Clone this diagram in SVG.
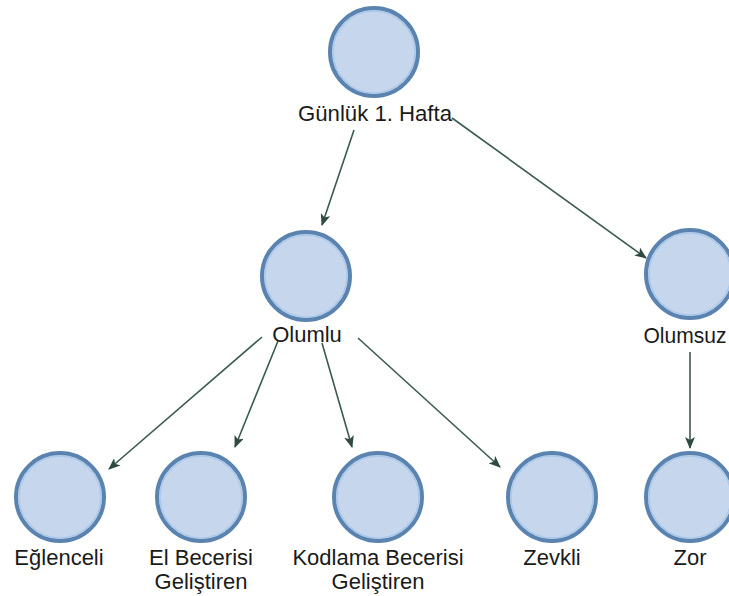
<svg xmlns="http://www.w3.org/2000/svg" width="729" height="596" viewBox="0 0 729 596">
<defs>
<style>
.node circle.o{fill:#c6d6ec;stroke:#5a83b0;stroke-width:4}
.node circle.i{fill:none;stroke:#a9c8ea;stroke-width:1.5}
.node text{font-family:"Liberation Sans",Arial,sans-serif;font-size:22px;fill:#1a1a1a;text-anchor:middle}
#edges line{stroke:#3b5a50;stroke-width:1.6;marker-end:url(#ah)}
</style>
<marker id="ah" viewBox="0 0 12 10" refX="11" refY="5" markerWidth="12" markerHeight="10" markerUnits="userSpaceOnUse" orient="auto">
<path d="M0,0 L12,5 L0,10 L3,5 z" fill="#2e4a42"/>
</marker>
</defs>
<rect width="729" height="596" fill="#ffffff"/>
<g id="edges">
<line x1="354" y1="130" x2="322" y2="225"/>
<line x1="452" y1="118" x2="646" y2="258"/>
<line x1="262" y1="337" x2="109" y2="469"/>
<line x1="278" y1="341" x2="235" y2="447"/>
<line x1="322" y1="343" x2="352" y2="447"/>
<line x1="358" y1="338" x2="500" y2="467"/>
<line x1="690" y1="352" x2="690" y2="448"/>
</g>
<g id="n-gunluk" class="node">
<circle class="o" cx="374" cy="52" r="44"/><circle class="i" cx="374" cy="52" r="41"/>
<text x="375" y="121" textLength="154" lengthAdjust="spacingAndGlyphs">Günlük 1. Hafta</text>
</g>
<g id="n-olumlu" class="node">
<circle class="o" cx="306" cy="276" r="44"/><circle class="i" cx="306" cy="276" r="41"/>
<text x="307" y="342">Olumlu</text>
</g>
<g id="n-olumsuz" class="node">
<circle class="o" cx="690" cy="274" r="44"/><circle class="i" cx="690" cy="274" r="41"/>
<text x="685" y="343" textLength="83" lengthAdjust="spacingAndGlyphs">Olumsuz</text>
</g>
<g id="n-eglenceli" class="node">
<circle class="o" cx="60" cy="497" r="44"/><circle class="i" cx="60" cy="497" r="41"/>
<text x="59" y="565">Eğlenceli</text>
</g>
<g id="n-el" class="node">
<circle class="o" cx="201" cy="497" r="44"/><circle class="i" cx="201" cy="497" r="41"/>
<text x="201" y="565">El Becerisi</text>
<text x="201" y="589">Geliştiren</text>
</g>
<g id="n-kodlama" class="node">
<circle class="o" cx="378" cy="497" r="44"/><circle class="i" cx="378" cy="497" r="41"/>
<text x="378" y="565">Kodlama Becerisi</text>
<text x="378" y="589">Geliştiren</text>
</g>
<g id="n-zevkli" class="node">
<circle class="o" cx="552" cy="497" r="44"/><circle class="i" cx="552" cy="497" r="41"/>
<text x="552" y="565">Zevkli</text>
</g>
<g id="n-zor" class="node">
<circle class="o" cx="690" cy="497" r="44"/><circle class="i" cx="690" cy="497" r="41"/>
<text x="690" y="565">Zor</text>
</g>
</svg>
